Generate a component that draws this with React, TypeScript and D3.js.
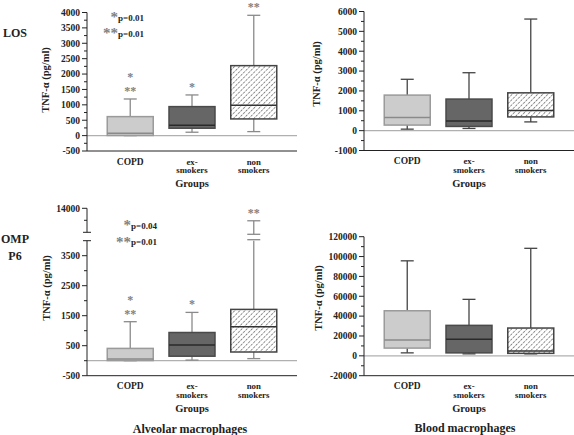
import React from 'react';
import * as d3 from 'd3';

const categories = ['COPD', 'ex-smokers', 'non smokers'];
const categoryLabelLines = [['COPD'], ['ex-', 'smokers'], ['non', 'smokers']];

// box stats per group: [min, q1, median, q3, max] in pg/ml
const losAlveolarStats = [
  [0, 5, 78, 617, 1190],
  [110, 240, 338, 942, 1321],
  [130, 542, 987, 2273, 3909],
];
const losBloodStats = [
  [75, 280, 667, 1790, 2586],
  [110, 212, 480, 1590, 2917],
  [440, 692, 1010, 1904, 5620],
];
const ompAlveolarStats = [
  [0, 5, 60, 410, 1300],
  [20, 150, 520, 940, 1610],
  [70, 290, 1130, 1710, 8800],
];
const ompBloodStats = [
  [3000, 7800, 16000, 45400, 95700],
  [2000, 3000, 16700, 30700, 56900],
  [2000, 2500, 5000, 28000, 108300],
];

const losAlveolarTicks = [-500, 0, 500, 1000, 1500, 2000, 2500, 3000, 3500, 4000];
const losAlveolarMinor = [-250, 250, 750, 1250, 1750, 2250, 2750, 3250, 3750];
const losBloodTicks = [-1000, 0, 1000, 2000, 3000, 4000, 5000, 6000];
const losBloodMinor = [-500, 500, 1500, 2500, 3500, 4500, 5500];
const ompAlveolarLowTicks = [-500, 500, 1500, 2500, 3500];
const ompAlveolarLowMinor = [0, 1000, 2000, 3000];
const ompAlveolarHighTicks = [14000];
const ompAlveolarHighMinor = [9000];
const ompBloodTicks = [-20000, 0, 20000, 40000, 60000, 80000, 100000, 120000];
const ompBloodMinor = [-10000, 10000, 30000, 50000, 70000, 90000, 110000];

const alveolarStars = [['*', '**'], ['*'], ['**']];
const noStars = [[], [], []];
const losPValues = [['*', 'p=0.01'], ['**', 'p=0.01']];
const ompPValues = [['*', 'p=0.04'], ['**', 'p=0.01']];

const rowLabels = [['LOS'], ['OMP', 'P6']];
const columnTitles = ['Alveolar macrophages', 'Blood macrophages'];
const yTitle = 'TNF-\u03b1 (pg/ml)';
const xTitle = 'Groups';

const FONT = "'Liberation Serif', 'Times New Roman', serif";

const boxStyles = [
  { fill: '#cccccc', stroke: '#9a9a9a', median: '#8a8a8a' },
  { fill: '#666666', stroke: '#4a4a4a', median: '#2a2a2a' },
  { fill: 'url(#hatch)', stroke: '#444444', median: '#333333' },
];

type Seg = { domain: number[]; range: number[]; labeled: number[]; minor: number[] };

type PanelDef = {
  x0: number;
  stats: number[][];
  segments: Seg[];
  whisker: string;
  stars: string[][];
  pvals: string[][] | null;
  pEnd: number;
  pBase: number[];
  titleX: number;
  titleY: number;
};

const panels: PanelDef[] = [
  {
    x0: 87,
    stats: losAlveolarStats,
    segments: [{ domain: [-500, 4000], range: [151, 12.5], labeled: losAlveolarTicks, minor: losAlveolarMinor }],
    whisker: '#8a8a8a',
    stars: alveolarStars,
    pvals: losPValues,
    pEnd: 144,
    pBase: [22, 38],
    titleX: 49,
    titleY: 80,
  },
  {
    x0: 364,
    stats: losBloodStats,
    segments: [{ domain: [-1000, 6000], range: [150.5, 11.5], labeled: losBloodTicks, minor: losBloodMinor }],
    whisker: '#444444',
    stars: noStars,
    pvals: null,
    pEnd: 0,
    pBase: [],
    titleX: 320,
    titleY: 74,
  },
  {
    x0: 87,
    stats: ompAlveolarStats,
    segments: [
      { domain: [-500, 4000], range: [375.7, 240.7], labeled: ompAlveolarLowTicks, minor: ompAlveolarLowMinor },
      { domain: [4000, 14000], range: [232.3, 208.3], labeled: ompAlveolarHighTicks, minor: ompAlveolarHighMinor },
    ],
    whisker: '#8a8a8a',
    stars: alveolarStars,
    pvals: ompPValues,
    pEnd: 157,
    pBase: [230, 246.5],
    titleX: 50,
    titleY: 288,
  },
  {
    x0: 364,
    stats: ompBloodStats,
    segments: [{ domain: [-20000, 120000], range: [375.7, 236.7], labeled: ompBloodTicks, minor: ompBloodMinor }],
    whisker: '#444444',
    stars: noStars,
    pvals: null,
    pEnd: 0,
    pBase: [],
    titleX: 321.5,
    titleY: 298,
  },
];

function Panel({ p }: { p: PanelDef }) {
  const width = 210;
  const right = p.x0 + width;
  const x = d3.scalePoint<string>().domain(categories).range([p.x0, right]).padding(0.7);
  const segs = p.segments.map((s) => ({ ...s, scale: d3.scaleLinear().domain(s.domain).range(s.range) }));
  const y = (v: number) => {
    for (const s of segs) if (v >= s.domain[0] && v <= s.domain[1]) return s.scale(v);
    return segs[segs.length - 1].scale(v);
  };
  const bottom = segs[0].range[0];
  const boxW = 46;
  const capW = 13;
  const broken = segs.length > 1;

  return (
    <g>
      {/* zero line */}
      <line x1={p.x0} x2={right} y1={y(0)} y2={y(0)} stroke="#b0b0b0" strokeWidth={1.2} />
      {p.stats.map((st, i) => {
        const cx = x(categories[i]) as number;
        const [mn, q1, med, q3, mx] = st;
        const style = boxStyles[i];
        const parts: React.ReactNode[] = [];
        // upper whisker
        if (broken && mx > segs[0].domain[1]) {
          const t0 = segs[0].scale(segs[0].domain[1]);
          const b1 = segs[1].scale(segs[1].domain[0]) + 2;
          const t1 = segs[1].scale(mx);
          parts.push(<line key="u1" x1={cx} x2={cx} y1={y(q3)} y2={t0} stroke={p.whisker} strokeWidth={1.3} />);
          parts.push(<line key="u1c" x1={cx - capW / 2} x2={cx + capW / 2} y1={t0 - 1} y2={t0 - 1} stroke={p.whisker} strokeWidth={1.3} />);
          parts.push(<line key="u2" x1={cx} x2={cx} y1={b1} y2={t1} stroke={p.whisker} strokeWidth={1.3} />);
          parts.push(<line key="u2b" x1={cx - capW / 2} x2={cx + capW / 2} y1={b1} y2={b1} stroke={p.whisker} strokeWidth={1.3} />);
          parts.push(<line key="u2c" x1={cx - capW / 2} x2={cx + capW / 2} y1={t1} y2={t1} stroke={p.whisker} strokeWidth={1.3} />);
        } else {
          parts.push(<line key="u" x1={cx} x2={cx} y1={y(q3)} y2={y(mx)} stroke={p.whisker} strokeWidth={1.3} />);
          parts.push(<line key="uc" x1={cx - capW / 2} x2={cx + capW / 2} y1={y(mx)} y2={y(mx)} stroke={p.whisker} strokeWidth={1.3} />);
        }
        parts.push(<line key="l" x1={cx} x2={cx} y1={y(q1)} y2={y(mn)} stroke={p.whisker} strokeWidth={1.3} />);
        parts.push(<line key="lc" x1={cx - capW / 2} x2={cx + capW / 2} y1={y(mn)} y2={y(mn)} stroke={p.whisker} strokeWidth={1.3} />);
        parts.push(
          <rect key="b" x={cx - boxW / 2} y={y(q3)} width={boxW} height={y(q1) - y(q3)} fill={style.fill} stroke={style.stroke} strokeWidth={1.5} />
        );
        parts.push(<line key="m" x1={cx - boxW / 2} x2={cx + boxW / 2} y1={y(med)} y2={y(med)} stroke={style.median} strokeWidth={1.5} />);
        // significance stars, stacked above the whisker cap
        const capY = y(mx);
        const list = p.stars[i];
        list.forEach((s, k) => {
          const center = capY - 9.5 - 13.5 * (list.length - 1 - k);
          parts.push(
            <text key={'s' + k} x={cx} y={center + 5.5} textAnchor="middle" fontSize={12} fill="#808080" opacity={0.99} fontFamily={FONT} fontWeight="bold">
              {s}
            </text>
          );
        });
        // category labels
        categoryLabelLines[i].forEach((ln, k) => {
          parts.push(
            <text key={'c' + k} x={cx} y={bottom + 13.5 + 8.5 * k} textAnchor="middle" fontSize={k === 0 && i === 0 ? 9.5 : 8.8} fontFamily={FONT} fontWeight="bold" fill="#222">
              {ln}
            </text>
          );
        });
        return <g key={i}>{parts}</g>;
      })}
      {/* x axis */}
      <line x1={p.x0} x2={right} y1={bottom} y2={bottom} stroke="#222" strokeWidth={1} />
      {/* y axis segments */}
      {segs.map((s, si) => (
        <g key={si}>
          <line x1={p.x0} x2={p.x0} y1={s.range[0]} y2={s.range[1]} stroke="#222" strokeWidth={1} />
          {s.labeled.map((t) => (
            <g key={'t' + t}>
              <line x1={p.x0 - 5} x2={p.x0} y1={s.scale(t)} y2={s.scale(t)} stroke="#222" />
              <text x={p.x0 - 7} y={s.scale(t)} dy="0.35em" textAnchor="end" fontSize={9.5} fontFamily={FONT} fontWeight="bold" fill="#222">
                {t}
              </text>
            </g>
          ))}
          {s.minor.map((t) => (
            <line key={'m' + t} x1={p.x0 - 3} x2={p.x0} y1={s.scale(t)} y2={s.scale(t)} stroke="#222" />
          ))}
        </g>
      ))}
      {broken && (
        <g>
          <line x1={p.x0 - 4} x2={p.x0 + 4} y1={segs[0].range[1]} y2={segs[0].range[1]} stroke="#222" />
          <line x1={p.x0 - 4} x2={p.x0 + 4} y1={segs[1].range[0]} y2={segs[1].range[0]} stroke="#222" />
        </g>
      )}
      {/* axis titles */}
      <text
        transform={`translate(${p.titleX},${p.titleY}) rotate(-90)`}
        textAnchor="middle"
        fontSize={10.5}
        fontFamily={FONT}
        fontWeight="bold"
        fill="#222"
      >
        {yTitle}
      </text>
      <text x={(x(categories[0]) as number + (x(categories[2]) as number)) / 2} y={bottom + 36} textAnchor="middle" fontSize={10.5} fontFamily={FONT} fontWeight="bold" fill="#222">
        {xTitle}
      </text>
      {p.pvals &&
        p.pvals.map((pv, k) => (
          <text key={'p' + k} x={p.pEnd} y={p.pBase[k]} textAnchor="end" fontFamily={FONT} fontWeight="bold" opacity={0.99}>
            <tspan fontSize={15} fill="#808080">
              {pv[0]}
            </tspan>
            <tspan fontSize={9} fill="#222" dy={-1.5}>
              {pv[1]}
            </tspan>
          </text>
        ))}
    </g>
  );
}

export default function App() {
  return (
    <svg width={574} height={435} style={{ position: 'absolute', left: 0, top: 0, background: '#fff' }}>
      <defs>
        <pattern id="hatch" patternUnits="userSpaceOnUse" width={3.6} height={3.6} patternTransform="rotate(45)">
          <rect width={3.6} height={3.6} fill="#fff" />
          <line x1={0} y1={0} x2={0} y2={3.6} stroke="#333" strokeWidth={1.1} strokeDasharray="2.2,1.2" />
        </pattern>
      </defs>
      <rect width={574} height={435} fill="#fff" />
      {panels.map((p, i) => (
        <Panel key={i} p={p} />
      ))}
      <text x={15} y={37} textAnchor="middle" fontSize={12} fontFamily={FONT} fontWeight="bold" fill="#222">
        {rowLabels[0][0]}
      </text>
      {rowLabels[1].map((l, k) => (
        <text key={k} x={15} y={243 + 17 * k} textAnchor="middle" fontSize={12} fontFamily={FONT} fontWeight="bold" fill="#222">
          {l}
        </text>
      ))}
      <text x={190} y={433} textAnchor="middle" fontSize={12} fontFamily={FONT} fontWeight="bold" fill="#222">
        {columnTitles[0]}
      </text>
      <text x={465} y={432} textAnchor="middle" fontSize={12} fontFamily={FONT} fontWeight="bold" fill="#222">
        {columnTitles[1]}
      </text>
    </svg>
  );
}
